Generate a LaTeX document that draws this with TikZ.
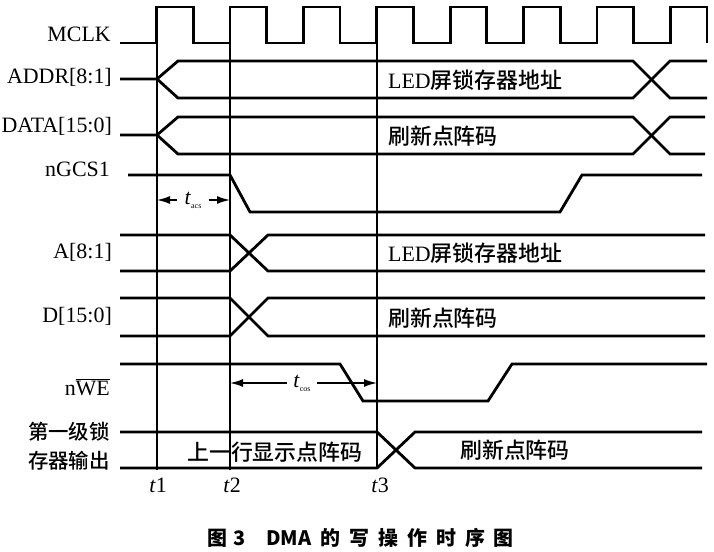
\documentclass[tikz,border=0pt]{standalone}
\usepackage{fontspec}
\setmainfont{Liberation Serif}
\newfontfamily\cjk{Noto Sans CJK SC}[UprightFont={* Medium}]
\newfontfamily\cjkcap{Noto Sans CJK SC}
\usetikzlibrary{arrows.meta}
\newcommand{\capgap}{\hspace{9bp}}

\begin{document}
\begin{tikzpicture}[x=1bp, y=-1bp]
        \tikzstyle{sig} = [draw, black, line width=2.8bp]
        \tikzstyle{tline} = [draw, black, line width=1.6bp]
        \tikzstyle{dim} = [draw, black, line width=1.6bp, -{Latex[length=13bp, width=8bp]}]
        \tikzstyle{signame} = [anchor=base east, inner sep=0pt, font=\fontsize{22}{22}\selectfont]
        \tikzstyle{latchname} = [anchor=east, inner sep=0pt, font=\cjk\fontsize{20.5}{20.5}\selectfont]
        \tikzstyle{wavetext} = [anchor=west, inner sep=0pt, font=\fontsize{22}{22}\selectfont]
        \tikzstyle{tlabel} = [inner sep=0pt, font=\fontsize{22}{22}\selectfont]

        \useasboundingbox (0,0) rectangle (714,552);

        % signal names
        \node[signame] (mclk) at (111,42) {MCLK};
        \node[signame] (addr) at (112,84) {ADDR[8:1]};
        \node[signame] (data) at (112,133) {DATA[15:0]};
        \node[signame] (ngcs) at (110,177) {nGCS1};
        \node[signame] (abus) at (112,259) {A[8:1]};
        \node[signame] (dbus) at (112,322) {D[15:0]};
        \node[signame] (nwe) at (110,395) {n$\overline{\mbox{WE}}$};
        \node[latchname] (latchA) at (110,432) {第一级锁};
        \node[latchname] (latchB) at (110,461) {存器输出};

        % time marks
        \coordinate (t1top) at (157,7);
        \coordinate (t1bot) at (157,470);
        \coordinate (t2top) at (230,7);
        \coordinate (t2bot) at (230,470);
        \coordinate (t3top) at (377,7);
        \coordinate (t3bot) at (377,468);
        \path[tline] (t1top) to (t1bot);
        \path[tline] (t2top) to (t2bot);
        \path[tline] (t3top) to (t3bot);
        \node[tlabel] (t1lbl) at (158,485) {\textit{t}1};
        \node[tlabel] (t2lbl) at (232,485) {\textit{t}2};
        \node[tlabel] (t3lbl) at (380,485) {\textit{t}3};

        % waveforms
        \draw[sig] (120,43) \foreach \k in {0,...,7} {
                -- ({156.5+73.4*\k},43) -- ++(0,-36) -- ++(36.7,0) -- ++(0,36) };
        \draw[sig] (120,79) -- (157,79) -- (178,61) -- (633,61) -- (670,98) -- (707,98);
        \draw[sig] (157,79) -- (178,98) -- (633,98) -- (670,61) -- (707,61);
        \draw[sig] (120,135) -- (157,135) -- (178,117) -- (633,117) -- (670,154) -- (705,154);
        \draw[sig] (157,135) -- (178,154) -- (633,154) -- (670,117) -- (705,117);
        \draw[sig] (128,175) -- (230,175) -- (250,212) -- (560,212) -- (582,175) -- (702,175);
        \draw[sig] (120,235) -- (230,235) -- (268,271) -- (705,271);
        \draw[sig] (120,271) -- (230,271) -- (268,235) -- (705,235);
        \draw[sig] (120,298) -- (230,298) -- (268,336) -- (705,336);
        \draw[sig] (120,336) -- (230,336) -- (268,298) -- (705,298);
        \draw[sig] (120,364) -- (340,364) -- (363,401) -- (488,401) -- (512,364) -- (707,364);
        \draw[sig] (120,432) -- (377,432) -- (415,468) -- (702,468);
        \draw[sig] (120,468) -- (377,468) -- (415,432) -- (702,432);

        % bus values
        \node[wavetext] (addrval) at (388,80) {LED{\cjk 屏锁存器地址}};
        \node[wavetext] (dataval) at (388,136) {\cjk 刷新点阵码};
        \node[wavetext] (aval) at (388,253) {LED{\cjk 屏锁存器地址}};
        \node[wavetext] (dval) at (388,318) {\cjk 刷新点阵码};
        \node[wavetext] (oldval) at (187,452) {\cjk 上一行显示点阵码};
        \node[wavetext] (newval) at (460,450) {\cjk 刷新点阵码};

        % timing intervals
        \coordinate (acsL) at (157,200);
        \coordinate (acsR) at (230,200);
        \node[tlabel, inner sep=7bp] (tacs) at (193,200) {\textit{t}\raisebox{-4bp}{\fontsize{8}{8}\selectfont acs}};
        \path[dim] (tacs) to (acsL);
        \path[dim] (tacs) to (acsR);
        \coordinate (cosL) at (230,383);
        \coordinate (cosR) at (377,383);
        \node[tlabel, inner sep=6bp] (tcos) at (302,383) {\textit{t}\raisebox{-4bp}{\fontsize{8}{8}\selectfont cos}};
        \path[dim] (tcos) to (cosL);
        \path[dim] (tcos) to (cosR);

        % caption
        \node[anchor=west, inner sep=0pt, font=\cjkcap\bfseries\fontsize{20}{20}\selectfont] (caption) at (207,538)
                {图\hspace{6bp}3\hspace{21bp}DMA\capgap 的\capgap 写\capgap 操\capgap 作\capgap 时\capgap 序\capgap 图};
\end{tikzpicture}
\end{document}
